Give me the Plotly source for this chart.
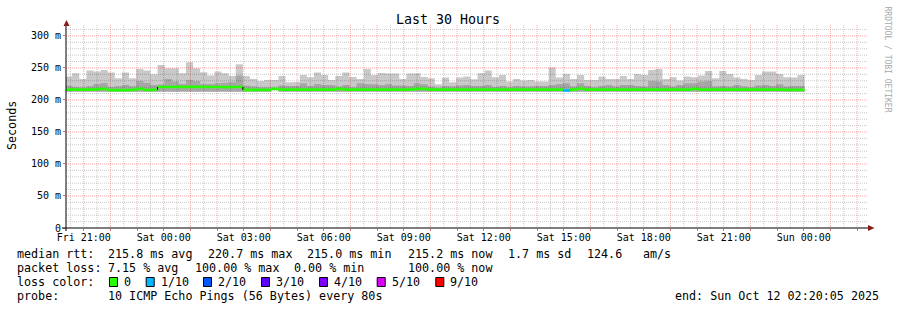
import plotly.graph_objects as go
from datetime import datetime, timedelta

# ---------------- data ----------------
END_TIME = datetime(2025, 10, 12, 2, 20, 5)
START_TIME = END_TIME - timedelta(hours=30)
FIRST_BIN = datetime(2025, 10, 10, 20, 18, 0)
BIN_MINUTES = 16

# round-trip times in ms per 16-minute bin (smoke: min .. max)
rtt_max = [
    236.5, 241.7, 232.8, 245.8, 244.3, 246.9, 242.7, 233.9, 242.7, 233.9,
    248.4, 245.8, 240.1, 254.7, 249.5, 249.5, 241.7, 258.9, 249.5, 243.2,
    238.0, 244.3, 241.7, 237.5, 255.7, 237.5, 232.8, 229.7, 231.3, 231.3,
    237.5, 227.6, 228.0, 239.1, 235.4, 242.7, 239.1, 231.3, 237.5, 242.7,
    235.9, 232.8, 248.4, 239.1, 242.2, 241.2, 241.2, 232.8, 241.2, 241.7,
    235.9, 234.0, 224.5, 234.9, 227.6, 234.9, 236.5, 232.3, 241.7, 245.8,
    235.4, 239.1, 228.6, 232.8, 230.2, 231.3, 228.6, 228.6, 250.5, 234.9,
    240.6, 232.8, 239.1, 231.3, 231.3, 236.5, 232.8, 232.8, 237.5, 232.8,
    240.6, 239.1, 246.9, 248.4, 232.8, 235.4, 230.2, 236.5, 235.4, 238.0,
    245.3, 233.9, 245.3, 240.6, 234.9, 232.8, 231.3, 239.1, 244.3, 244.3,
    240.6, 235.4, 234.9, 239.1,
]
rtt_upper = [
    222.0, 220.0, 219.5, 221.5, 225.0, 226.5, 220.0, 221.5, 223.4, 221.5,
    229.7, 227.0, 223.4, 224.0, 232.8, 228.6, 225.0, 231.3, 229.7, 225.0,
    225.0, 226.0, 227.0, 227.5, 238.0, 222.0, 220.8, 219.8, 219.8, 219.3,
    222.4, 221.9, 221.9, 226.0, 221.9, 225.0, 223.4, 223.4, 220.8, 223.4,
    219.8, 226.0, 225.0, 224.5, 223.4, 225.0, 222.4, 222.4, 221.9, 226.0,
    224.5, 220.8, 219.3, 221.9, 220.8, 222.4, 223.4, 221.9, 221.9, 223.4,
    220.3, 221.9, 219.8, 221.9, 220.8, 220.8, 221.9, 221.9, 223.4, 225.0,
    226.0, 220.8, 226.0, 221.9, 219.8, 221.9, 223.4, 220.8, 223.4, 223.4,
    221.9, 220.8, 229.7, 228.6, 223.4, 220.8, 223.4, 226.0, 226.0, 228.6,
    229.7, 220.8, 221.9, 220.8, 223.4, 220.8, 219.8, 222.4, 223.4, 221.9,
    224.5, 220.8, 221.9, 221.9,
]
rtt_median = [
    216.1, 216.1, 216.1, 216.1, 216.8, 217.2, 215.2, 215.2, 215.2, 215.6,
    217.2, 215.6, 215.6, 220.2, 220.2, 220.3, 220.2, 220.5, 220.3, 220.2,
    220.2, 220.2, 220.1, 220.2, 220.3, 215.6, 215.6, 215.8, 215.8, 217.4,
    216.0, 216.0, 216.0, 216.0, 216.0, 216.0, 216.0, 216.0, 217.4, 216.0,
    216.0, 216.0, 216.0, 216.0, 216.0, 216.0, 216.0, 216.0, 216.0, 217.3,
    217.3, 216.0, 216.0, 216.0, 216.0, 216.0, 216.0, 216.0, 216.0, 216.0,
    216.0, 216.0, 216.0, 216.0, 216.0, 216.0, 216.0, 216.0, 216.0, 216.0,
    214.8, 216.0, 217.6, 216.0, 216.0, 216.0, 216.0, 216.0, 216.0, 216.0,
    216.0, 216.0, 216.0, 216.0, 216.0, 216.0, 216.0, 216.0, 217.4, 216.0,
    216.0, 216.0, 216.0, 216.0, 216.0, 216.0, 216.0, 216.0, 216.0, 216.0,
    216.0, 215.8, 215.8, 215.6,
]
rtt_lower = [
    213.0, 213.0, 213.0, 213.0, 213.0, 213.0, 213.0, 213.0, 213.0, 213.0,
    213.0, 213.0, 213.0, 213.0, 213.0, 213.0, 213.0, 213.0, 213.0, 213.0,
    213.0, 213.0, 213.0, 213.0, 213.0, 213.0, 213.0, 213.0, 213.0, 215.4,
    213.0, 213.0, 213.0, 213.0, 213.0, 213.0, 213.0, 213.0, 213.0, 213.0,
    213.0, 213.0, 213.0, 213.0, 213.0, 213.0, 213.0, 213.0, 213.0, 213.0,
    213.0, 213.0, 213.0, 213.0, 213.0, 213.0, 213.0, 213.0, 213.0, 213.0,
    213.0, 213.0, 213.0, 213.0, 213.0, 213.0, 213.0, 213.0, 213.0, 213.0,
    213.0, 213.0, 213.0, 213.0, 213.0, 213.0, 213.0, 213.0, 213.0, 213.0,
    213.0, 213.0, 213.0, 213.0, 213.0, 213.0, 213.0, 213.0, 213.0, 213.0,
    213.0, 213.0, 213.0, 213.0, 213.0, 213.0, 213.0, 213.0, 213.0, 213.0,
    213.0, 213.0, 213.0, 213.0,
]
rtt_min = [
    212.3, 212.3, 212.3, 212.3, 212.3, 212.3, 212.3, 212.3, 212.3, 212.3,
    212.3, 212.3, 212.3, 212.3, 212.3, 212.3, 212.3, 212.3, 212.3, 212.3,
    212.3, 212.3, 212.3, 212.3, 212.3, 212.3, 212.3, 212.3, 212.3, 215.2,
    212.3, 212.3, 212.3, 212.3, 212.3, 212.3, 212.3, 212.3, 212.3, 212.3,
    212.3, 212.3, 212.3, 212.3, 212.3, 212.3, 212.3, 212.3, 212.3, 212.3,
    212.3, 212.3, 212.3, 212.3, 212.3, 212.3, 212.3, 212.3, 212.3, 212.3,
    212.3, 212.3, 212.3, 212.3, 212.3, 212.3, 212.3, 212.3, 212.3, 212.3,
    212.3, 212.3, 212.3, 212.3, 212.3, 212.3, 212.3, 212.3, 212.3, 212.3,
    212.3, 212.3, 212.3, 212.3, 212.3, 212.3, 212.3, 212.3, 212.3, 212.3,
    212.3, 212.3, 212.3, 212.3, 212.3, 212.3, 212.3, 212.3, 212.3, 212.3,
    212.3, 212.3, 212.3, 212.3,
]
# lost pings (out of 10) per bin
lost = [
    0, 0, 0, 0, 0, 0, 0, 0, 0, 0,
    0, 0, 0, 0, 0, 0, 0, 0, 0, 0,
    0, 0, 0, 0, 0, 0, 0, 0, 0, 0,
    0, 0, 0, 0, 0, 0, 0, 0, 0, 0,
    0, 0, 0, 0, 0, 0, 0, 0, 0, 0,
    0, 0, 0, 0, 0, 0, 0, 0, 0, 0,
    0, 0, 0, 0, 0, 0, 0, 0, 0, 0,
    1, 0, 0, 0, 0, 0, 0, 0, 0, 0,
    0, 0, 0, 0, 0, 0, 0, 0, 0, 0,
    0, 0, 0, 0, 0, 0, 0, 0, 0, 0,
    0, 0, 0, 0,
]

loss_levels = [0, 1, 2, 3, 4, 5, 9]
loss_labels = ["0", "1/10", "2/10", "3/10", "4/10", "5/10", "9/10"]
loss_colors = ["#26ff00", "#00b8ff", "#0059ff", "#5e00ff", "#7e00ff", "#dd00ff", "#ff0000"]

x_tick_times = [
    "2025-10-10 21:00", "2025-10-10 22:00", "2025-10-10 23:00", "2025-10-11 00:00",
    "2025-10-11 01:00", "2025-10-11 02:00", "2025-10-11 03:00", "2025-10-11 04:00",
    "2025-10-11 05:00", "2025-10-11 06:00", "2025-10-11 07:00", "2025-10-11 08:00",
    "2025-10-11 09:00", "2025-10-11 10:00", "2025-10-11 11:00", "2025-10-11 12:00",
    "2025-10-11 13:00", "2025-10-11 14:00", "2025-10-11 15:00", "2025-10-11 16:00",
    "2025-10-11 17:00", "2025-10-11 18:00", "2025-10-11 19:00", "2025-10-11 20:00",
    "2025-10-11 21:00", "2025-10-11 22:00", "2025-10-11 23:00", "2025-10-12 00:00",
    "2025-10-12 01:00", "2025-10-12 02:00",
]
x_tick_labels = [
    "Fri 21:00", "", "", "Sat 00:00", "", "", "Sat 03:00", "", "", "Sat 06:00",
    "", "", "Sat 09:00", "", "", "Sat 12:00", "", "", "Sat 15:00", "", "",
    "Sat 18:00", "", "", "Sat 21:00", "", "", "Sun 00:00", "", "",
]
y_tick_values = [0, 50, 100, 150, 200, 250, 300]
y_tick_labels = ["0", "50 m", "100 m", "150 m", "200 m", "250 m", "300 m"]

stat_median = ["median rtt:", "215.8 ms avg", "220.7 ms max", "215.0 ms min", "215.2 ms now", "1.7 ms sd", "124.6", "am/s"]
stat_loss = ["packet loss:", "7.15 % avg", "100.00 % max", "0.00 % min", "100.00 % now"]
probe_text = ["probe:", "10 ICMP Echo Pings (56 Bytes) every 80s"]
end_text = "end: Sun Oct 12 02:20:05 2025"

# ---------------- geometry helpers (layout only) ----------------
W, H = 897, 310
PL, PR, PT, PB = 66, 866, 25, 228
Y_TOP = 317
FONT = "DejaVu Sans Mono"
MEDIAN_HALF = 2.1


def px_x(px):
    return (px - PL) / (PR - PL)


def px_y(py):
    return (PB - py) / (PB - PT)


n = len(rtt_median)
edges = [FIRST_BIN + timedelta(minutes=BIN_MINUTES * i) for i in range(n + 1)]


def band(lo, hi, mask):
    """closed polygons (one per contiguous run of bins) between lo and hi"""
    xs, ys = [], []
    i = 0
    while i < n:
        if not mask[i]:
            i += 1
            continue
        j = i
        while j < n and mask[j]:
            j += 1
        run = list(range(i, j))
        for k in run:
            xs += [edges[k], edges[k + 1]]
            ys += [hi[k], hi[k]]
        for k in reversed(run):
            xs += [edges[k + 1], edges[k]]
            ys += [lo[k], lo[k]]
        xs += [edges[i], None]
        ys += [hi[i], None]
        i = j
    return xs, ys


def bins_as_blocks(lo, hi, mask):
    """one closed rectangle per bin (so touching steps never pinch)"""
    xs, ys = [], []
    for k in range(n):
        if mask[k]:
            xs += [edges[k], edges[k + 1], edges[k + 1], edges[k], edges[k], None]
            ys += [lo[k], lo[k], hi[k], hi[k], lo[k], None]
    return xs, ys


fig = go.Figure()
all_mask = [True] * n
# smoke layers are translucent so the dotted grid shows through them
x, y = band(rtt_min, rtt_max, all_mask)
fig.add_trace(go.Scatter(x=x, y=y, fill="toself", fillcolor="rgba(0,0,0,0.21)", mode="lines",
                         line=dict(width=0, color="rgba(0,0,0,0)", simplify=False), hoverinfo="skip"))
x, y = band(rtt_lower, rtt_upper, all_mask)
fig.add_trace(go.Scatter(x=x, y=y, fill="toself", fillcolor="rgba(0,0,0,0.17)", mode="lines",
                         line=dict(width=0, color="rgba(0,0,0,0)", simplify=False), hoverinfo="skip"))

med_lo = [m - MEDIAN_HALF for m in rtt_median]
med_hi = [m + MEDIAN_HALF for m in rtt_median]
for lvl, col in zip(loss_levels, loss_colors):
    mask = [l == lvl for l in lost]
    if any(mask):
        x, y = bins_as_blocks(med_lo, med_hi, mask)
        fig.add_trace(go.Scatter(x=x, y=y, fill="toself", fillcolor=col, mode="lines",
                                 line=dict(width=0, color=col, simplify=False), hoverinfo="skip"))

# thin black median risers where the median jumps by more than the band
jx, jy = [], []
for k in range(n - 1):
    if abs(rtt_median[k + 1] - rtt_median[k]) > 2 * MEDIAN_HALF:
        jx += [edges[k + 1], edges[k + 1], None]
        jy += [rtt_median[k], rtt_median[k + 1], None]
fig.add_trace(go.Scatter(x=jx, y=jy, mode="lines", line=dict(width=1, color="black"), hoverinfo="skip"))

shapes = []
MINOR = "rgba(140,140,140,0.45)"
MAJOR = "rgba(255,0,0,0.35)"
# vertical grid
t = START_TIME.replace(minute=30, second=0)
while t < END_TIME:
    if t > START_TIME:
        col = MAJOR if t.minute == 0 else MINOR
        shapes.append(dict(type="line", xref="x", yref="paper", x0=t, x1=t, y0=0, y1=1,
                           line=dict(color=col, width=1, dash="1px,1px"), layer="below"))
    t += timedelta(minutes=30)
# horizontal grid
for v in range(10, Y_TOP, 10):
    col = MAJOR if v % 50 == 0 else MINOR
    shapes.append(dict(type="line", xref="paper", yref="y", x0=0, x1=px_x(868), y0=v, y1=v,
                       line=dict(color=col, width=1, dash="1px,1px"), layer="below"))
# axes
shapes.append(dict(type="line", xref="paper", yref="paper", x0=px_x(62), x1=px_x(869),
                   y0=0, y1=0, line=dict(color="black", width=1), layer="above"))
shapes.append(dict(type="line", xref="paper", yref="paper", x0=0, x1=0,
                   y0=px_y(231), y1=px_y(24), line=dict(color="black", width=1), layer="above"))
ARROW = "#8b1a1a"
shapes.append(dict(type="path", xref="paper", yref="paper",
                   path=f"M {px_x(63.5)} {px_y(26)} L {px_x(66.5)} {px_y(20)} L {px_x(69.5)} {px_y(26)} Z",
                   fillcolor=ARROW, line=dict(width=0), layer="above"))
shapes.append(dict(type="path", xref="paper", yref="paper",
                   path=f"M {px_x(868)} {px_y(225)} L {px_x(874.5)} {px_y(228)} L {px_x(868)} {px_y(231)} Z",
                   fillcolor=ARROW, line=dict(width=0), layer="above"))

annotations = []


def txt(s, px, py, size=11.7, anchor="left", color="black", angle=0):
    off = -1.5 if anchor == "left" else 0
    annotations.append(dict(text=s, x=px_x(px + off), y=px_y(py), xref="paper", yref="paper",
                            xanchor=anchor, yanchor="middle", showarrow=False, textangle=angle,
                            font=dict(family=FONT, size=size, color=color)))


txt("Last 30 Hours", 448, 19.8, size=13.3, anchor="center")
txt("Seconds", 12, 126, anchor="center", angle=-90)
txt("RRDTOOL / TOBI OETIKER", 887.5, 59, size=8, anchor="center", color="#a8a8a8", angle=90)

for s, px in zip(stat_median, [16, 107.3, 207.3, 306.7, 407.3, 507.3, 586.7, 642.3]):
    txt(s, px, 254.2)
for s, px in zip(stat_loss, [16, 107.3, 194, 293.3, 407.3]):
    txt(s, px, 268.2)
txt("loss color:", 16, 282.2)
square_left = [109, 145.7, 203, 261, 319, 376.7, 435.3]
for lab, col, sx in zip(loss_labels, loss_colors, square_left):
    shapes.append(dict(type="rect", xref="paper", yref="paper",
                       x0=px_x(sx + 0.5), x1=px_x(sx + 8.5), y0=px_y(286.5), y1=px_y(277.5),
                       fillcolor=col, line=dict(color="black", width=1)))
    txt(lab, sx + 14.3, 282.2)
for s, px in zip(probe_text, [16, 107.3]):
    txt(s, px, 296.2)
txt(end_text, 881, 296.2, anchor="right")

fig.update_layout(
    width=W, height=H,
    margin=dict(l=PL, r=W - PR, t=PT, b=H - PB, pad=0),
    plot_bgcolor="white", paper_bgcolor="white", showlegend=False,
    font=dict(family=FONT, size=10, color="black"),
    shapes=shapes, annotations=annotations,
    xaxis=dict(type="date", range=[START_TIME, END_TIME], tickmode="array",
               tickvals=x_tick_times, ticktext=x_tick_labels, showgrid=False, zeroline=False,
               showline=False, ticks="outside", ticklen=2, tickcolor="rgba(255,0,0,0.6)",
               ticklabelstandoff=-2,
               tickfont=dict(family=FONT, size=10, color="black"), fixedrange=True),
    yaxis=dict(range=[0, Y_TOP], tickmode="array", tickvals=y_tick_values, ticktext=y_tick_labels,
               showgrid=False, zeroline=False, showline=False, ticks="outside", ticklen=2,
               tickcolor="rgba(255,0,0,0.6)", tickfont=dict(family=FONT, size=10, color="black"),
               fixedrange=True),
)

fig.write_html("out.html", config={"displayModeBar": False})
